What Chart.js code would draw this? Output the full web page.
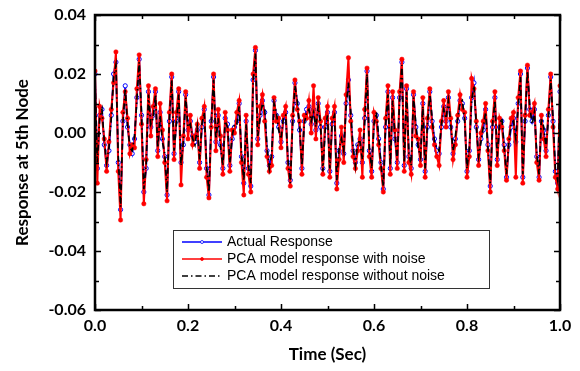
<!DOCTYPE html>
<html>
<head>
<meta charset="utf-8">
<script src="https://cdn.jsdelivr.net/npm/chart.js@4.4.1/dist/chart.umd.min.js"></script>
<style>
  html, body { margin: 0; padding: 0; background: #fff; }
  #wrap { width: 580px; height: 371px; }
</style>
</head>
<body>
<div id="wrap"><canvas id="resp-chart" width="580" height="371"></canvas></div>
<script>
// time axis: 0 .. 1 s, sampled every 0.005 s
const times = Array.from({ length: 201 }, (_, i) => +(i * 0.005).toFixed(3));

const seriesNames = [
  "Actual Response",
  "PCA model response with noise",
  "PCA model response without noise",
];

// response at 5th node
const actualResponse = [
  0.020, -0.012, 0.006, 0.008, -0.004, -0.011, -0.006, 0.006, 0.020, 0.024,
  -0.010, -0.026, 0.004, 0.016, 0.002, -0.004, -0.007, -0.002, 0.012, 0.025,
  0.006, -0.020, -0.012, 0.014, 0.002, 0.006, 0.014, -0.006, 0.007, -0.002,
  -0.008, -0.021, 0.004, 0.019, -0.007, 0.004, 0.014, -0.010, -0.004, 0.013,
  0.001, 0.004, -0.001, -0.003, 0.001, -0.010, 0.002, 0.008, -0.012, -0.021,
  0.004, 0.019, -0.003, 0.006, -0.004, -0.012, 0.005, 0.003, -0.011, -0.002,
  0.002, 0.004, 0.010, -0.008, -0.017, 0.004, -0.012, -0.018, 0.018, 0.028,
  -0.002, 0.006, 0.011, 0.007, -0.006, -0.011, -0.008, 0.011, 0.006, 0.002,
  -0.003, 0.004, 0.007, -0.010, -0.016, 0.004, 0.017, 0.010, 0.001, -0.012,
  0.004, 0.008, 0.009, 0.003, 0.008, 0.001, 0.010, 0.002, -0.012, 0.002,
  0.007, -0.013, 0.003, 0.007, -0.017, -0.006, -0.001, -0.007, 0.010, 0.018,
  0.006, -0.006, -0.010, -0.004, -0.002, -0.010, 0.005, 0.021, -0.006, -0.013,
  0.004, 0.006, -0.002, -0.010, -0.019, 0.002, 0.014, -0.012, 0.012, -0.002,
  -0.010, 0.012, 0.024, -0.011, 0.015, -0.008, -0.012, 0.013, 0.002, -0.004,
  -0.009, 0.010, -0.013, 0.002, 0.014, 0.004, -0.002, -0.006, -0.007, 0.002,
  0.009, 0.004, 0.012, 0.002, -0.007, -0.002, 0.004, 0.011, 0.010, 0.005,
  -0.013, -0.006, 0.012, 0.017, 0.002, -0.009, -0.002, 0.001, 0.008, -0.004,
  -0.018, 0.002, 0.012, -0.009, 0.002, 0.004, -0.004, -0.015, -0.004, 0.002,
  0.005, -0.003, 0.010, 0.020, -0.015, 0.004, 0.022, 0.008, 0.004, 0.008,
  -0.008, -0.015, 0.004, 0.001, -0.006, 0.006, 0.019, 0.004, -0.013, -0.017,
  0.014,
];

const pcaWithNoise = [
  0.021, -0.017, 0.009, 0.005, -0.002, -0.013, -0.003, 0.008, 0.017, 0.0275,
  -0.013, -0.0295, 0.007, 0.014, 0.005, -0.007, -0.004, -0.005, 0.015, 0.0265,
  0.003, -0.024, -0.009, 0.016, -0.001, 0.009, 0.015, -0.008, 0.010, 0.001,
  -0.010, -0.023, 0.007, 0.020, -0.009, 0.007, 0.015, -0.0176, -0.001, 0.014,
  -0.002, 0.006, -0.004, -0.001, 0.003, -0.012, 0.005, 0.009, -0.015, -0.022,
  0.002, 0.020, -0.006, 0.008, -0.001, -0.014, 0.007, 0.001, -0.013, 0.001,
  0.000, 0.007, 0.011, -0.010, -0.021, 0.006, -0.014, -0.020, 0.020, 0.029,
  -0.004, 0.009, 0.013, 0.004, -0.008, -0.013, -0.011, 0.012, 0.004, 0.005,
  -0.005, 0.006, 0.009, -0.012, -0.018, 0.006, 0.018, 0.008, 0.004, -0.014,
  0.006, 0.005, 0.011, 0.000, 0.016, -0.002, 0.012, 0.004, -0.014, 0.005,
  0.009, -0.015, 0.005, 0.009, -0.019, -0.009, 0.002, -0.010, 0.013, 0.0255,
  0.004, -0.008, -0.012, -0.006, 0.001, -0.015, 0.008, 0.022, -0.008, -0.015,
  0.007, 0.004, -0.004, -0.012, -0.020, 0.005, 0.016, -0.014, 0.014, 0.001,
  -0.012, 0.014, 0.025, -0.013, 0.016, -0.010, -0.014, 0.014, -0.001, -0.002,
  -0.011, 0.012, -0.015, 0.005, 0.015, 0.002, -0.004, -0.008, -0.011, 0.004,
  0.011, 0.002, 0.014, 0.005, -0.009, -0.004, 0.006, 0.013, 0.008, 0.007,
  -0.015, -0.008, 0.0185, 0.015, 0.004, -0.011, 0.000, 0.004, 0.010, -0.006,
  -0.020, 0.004, 0.014, -0.011, 0.005, 0.002, -0.006, -0.016, -0.002, 0.005,
  0.007, -0.015, 0.012, 0.021, -0.017, 0.006, 0.023, 0.006, 0.007, 0.010,
  -0.010, -0.016, 0.006, -0.002, -0.008, 0.008, 0.020, 0.002, -0.015, -0.019,
  0.016,
];

const pcaWithoutNoise = [
  0.018, -0.010, 0.005, 0.008, -0.003, -0.010, -0.005, 0.005, 0.019, 0.023,
  -0.008, -0.025, 0.003, 0.015, 0.003, -0.005, -0.006, -0.001, 0.011, 0.024,
  0.007, -0.019, -0.011, 0.013, 0.003, 0.005, 0.013, -0.005, 0.006, -0.003,
  -0.007, -0.020, 0.005, 0.018, -0.006, 0.003, 0.013, -0.011, -0.003, 0.012,
  0.002, 0.003, -0.002, -0.004, 0.002, -0.009, 0.003, 0.007, -0.011, -0.020,
  0.003, 0.018, -0.002, 0.005, -0.005, -0.011, 0.004, 0.002, -0.010, -0.001,
  0.003, 0.003, 0.009, -0.007, -0.016, 0.003, -0.011, -0.017, 0.017, 0.027,
  -0.001, 0.005, 0.010, 0.008, -0.005, -0.012, -0.007, 0.010, 0.007, 0.001,
  -0.002, 0.005, 0.006, -0.009, -0.017, 0.003, 0.016, 0.011, 0.002, -0.011,
  0.003, 0.007, 0.008, 0.004, 0.007, 0.002, 0.009, 0.003, -0.013, 0.001,
  0.006, -0.012, 0.004, 0.006, -0.016, -0.005, -0.002, -0.006, 0.009, 0.017,
  0.007, -0.005, -0.011, -0.003, -0.003, -0.009, 0.004, 0.020, -0.005, -0.012,
  0.003, 0.007, -0.001, -0.011, -0.018, 0.003, 0.013, -0.011, 0.011, -0.001,
  -0.009, 0.011, 0.023, -0.010, 0.014, -0.007, -0.011, 0.012, 0.003, -0.005,
  -0.008, 0.009, -0.012, 0.003, 0.013, 0.005, -0.003, -0.005, -0.006, 0.003,
  0.008, 0.005, 0.011, 0.003, -0.006, -0.001, 0.005, 0.010, 0.011, 0.004,
  -0.012, -0.005, 0.011, 0.016, 0.003, -0.008, -0.003, 0.002, 0.007, -0.005,
  -0.017, 0.003, 0.011, -0.008, 0.003, 0.005, -0.005, -0.014, -0.003, 0.003,
  0.004, -0.002, 0.009, 0.019, -0.014, 0.005, 0.021, 0.009, 0.003, 0.007,
  -0.007, -0.014, 0.005, 0.002, -0.005, 0.005, 0.018, 0.005, -0.012, -0.016,
  0.013,
];

const toPoints = (vals) => vals.map((v, i) => ({ x: times[i], y: v }));

// 枠線・内向き目盛り・凡例
const framePlugin = {
  id: "frame",
  afterDatasetsDraw(chart) {
    const { ctx, chartArea: a, scales } = chart;
    ctx.save();
    ctx.strokeStyle = "#000";
    ctx.lineWidth = 2.5;
    ctx.strokeRect(a.left, a.top, a.right - a.left, a.bottom - a.top);

    ctx.lineWidth = 1.5;
    ctx.beginPath();
    scales.x.ticks.forEach((t) => {
      const px = Math.round(scales.x.getPixelForValue(t.value)) + 0.5;
      const len = Math.round(t.value * 10) % 2 === 0 ? 6 : 4;
      ctx.moveTo(px, a.bottom); ctx.lineTo(px, a.bottom - len);
      ctx.moveTo(px, a.top); ctx.lineTo(px, a.top + len);
    });
    scales.y.ticks.forEach((t) => {
      const py = Math.round(scales.y.getPixelForValue(t.value)) + 0.5;
      const len = Math.round(t.value * 100) % 2 === 0 ? 6 : 4;
      ctx.moveTo(a.left, py); ctx.lineTo(a.left + len, py);
      ctx.moveTo(a.right, py); ctx.lineTo(a.right - len, py);
    });
    ctx.stroke();

    // legend box
    const bx = 173, by = 230, bw = 316, bh = 58;
    ctx.fillStyle = "#fff";
    ctx.fillRect(bx, by, bw, bh);
    ctx.strokeStyle = "#333";
    ctx.lineWidth = 1;
    ctx.strokeRect(bx + 0.5, by + 0.5, bw, bh);
    ctx.font = "14px 'Liberation Sans', Arial, sans-serif";
    ctx.textBaseline = "middle";
    chart.data.datasets.forEach((ds, i) => {
      const y = 242 + i * 17;
      ctx.strokeStyle = ds.borderColor;
      ctx.lineWidth = Math.min(ds.borderWidth, 1.6);
      ctx.setLineDash(ds.borderDash || []);
      ctx.beginPath();
      ctx.moveTo(182, y); ctx.lineTo(222, y);
      ctx.stroke();
      ctx.setLineDash([]);
      if (ds.pointRadius > 0) {
        ctx.beginPath();
        ctx.arc(202, y, 1.5, 0, Math.PI * 2);
        ctx.fillStyle = ds.pointBackgroundColor;
        ctx.fill();
        ctx.lineWidth = 0.8;
        ctx.strokeStyle = ds.pointBorderColor;
        ctx.stroke();
      }
      ctx.fillStyle = "#000";
      ctx.fillText(ds.label, 227, y + 0.5);
    });
    ctx.restore();
  },
};

function renderChart() {
  const ctx = document.getElementById("resp-chart");
  const tickFont = { family: "Lato, 'Open Sans', sans-serif", size: 16, weight: "bold" };
  const titleFont = { family: "Lato, 'Open Sans', sans-serif", size: 17, weight: "bold" };

  new Chart(ctx, {
    type: "line",
    data: {
      datasets: [
        {
          label: seriesNames[0],
          data: toPoints(actualResponse),
          borderColor: "#0000ff",
          borderWidth: 1.8,
          pointRadius: 2.1,
          pointBackgroundColor: "#ffffff",
          pointBorderColor: "#0000ff",
          pointBorderWidth: 1,
          order: 3,
        },
        {
          label: seriesNames[1],
          data: toPoints(pcaWithNoise),
          borderColor: "#ff0000",
          borderWidth: 2,
          pointRadius: 2.2,
          pointBackgroundColor: "#ff0000",
          pointBorderColor: "#ff0000",
          pointBorderWidth: 0.5,
          order: 2,
        },
        {
          label: seriesNames[2],
          data: toPoints(pcaWithoutNoise),
          borderColor: "#000000",
          borderWidth: 1.7,
          borderDash: [6, 3, 1.5, 3],
          pointRadius: 0,
          order: 1,
        },
      ],
    },
    options: {
      responsive: false,
      animation: false,
      devicePixelRatio: 1,
      layout: { padding: { left: 0, right: 20, top: 15, bottom: 0 } },
      plugins: {
        legend: { display: false },
        tooltip: { enabled: false },
      },
      elements: { line: { tension: 0 } },
      scales: {
        x: {
          type: "linear",
          min: 0,
          max: 1,
          grid: { display: false, drawTicks: false },
          border: { display: false },
          ticks: {
            stepSize: 0.1,
            color: "#000",
            font: tickFont,
            padding: 6,
            maxRotation: 0,
            autoSkip: false,
            callback: (v) => (Math.round(v * 10) % 2 === 0 ? v.toFixed(1) : ""),
          },
          title: {
            display: true,
            text: "Time (Sec)",
            color: "#000",
            font: titleFont,
            padding: { top: 0, bottom: 6 },
          },
          afterFit: (s) => { s.height = 61; s.paddingLeft = 0; s.paddingRight = 0; },
        },
        y: {
          min: -0.06,
          max: 0.04,
          grid: { display: false, drawTicks: false },
          border: { display: false },
          ticks: {
            stepSize: 0.01,
            color: "#000",
            font: tickFont,
            padding: 9,
            autoSkip: false,
            callback: (v) => (Math.round(v * 100) % 2 === 0 ? v.toFixed(2) : ""),
          },
          title: {
            display: true,
            text: "Response at 5th Node",
            color: "#000",
            font: titleFont,
            padding: { top: 12, bottom: 0 },
          },
          afterFit: (s) => { s.width = 95; s.paddingTop = 0; s.paddingBottom = 0; },
        },
      },
    },
    plugins: [framePlugin],
  });
}

document.addEventListener("DOMContentLoaded", () => {
  renderChart();
});
</script>
</body>
</html>
